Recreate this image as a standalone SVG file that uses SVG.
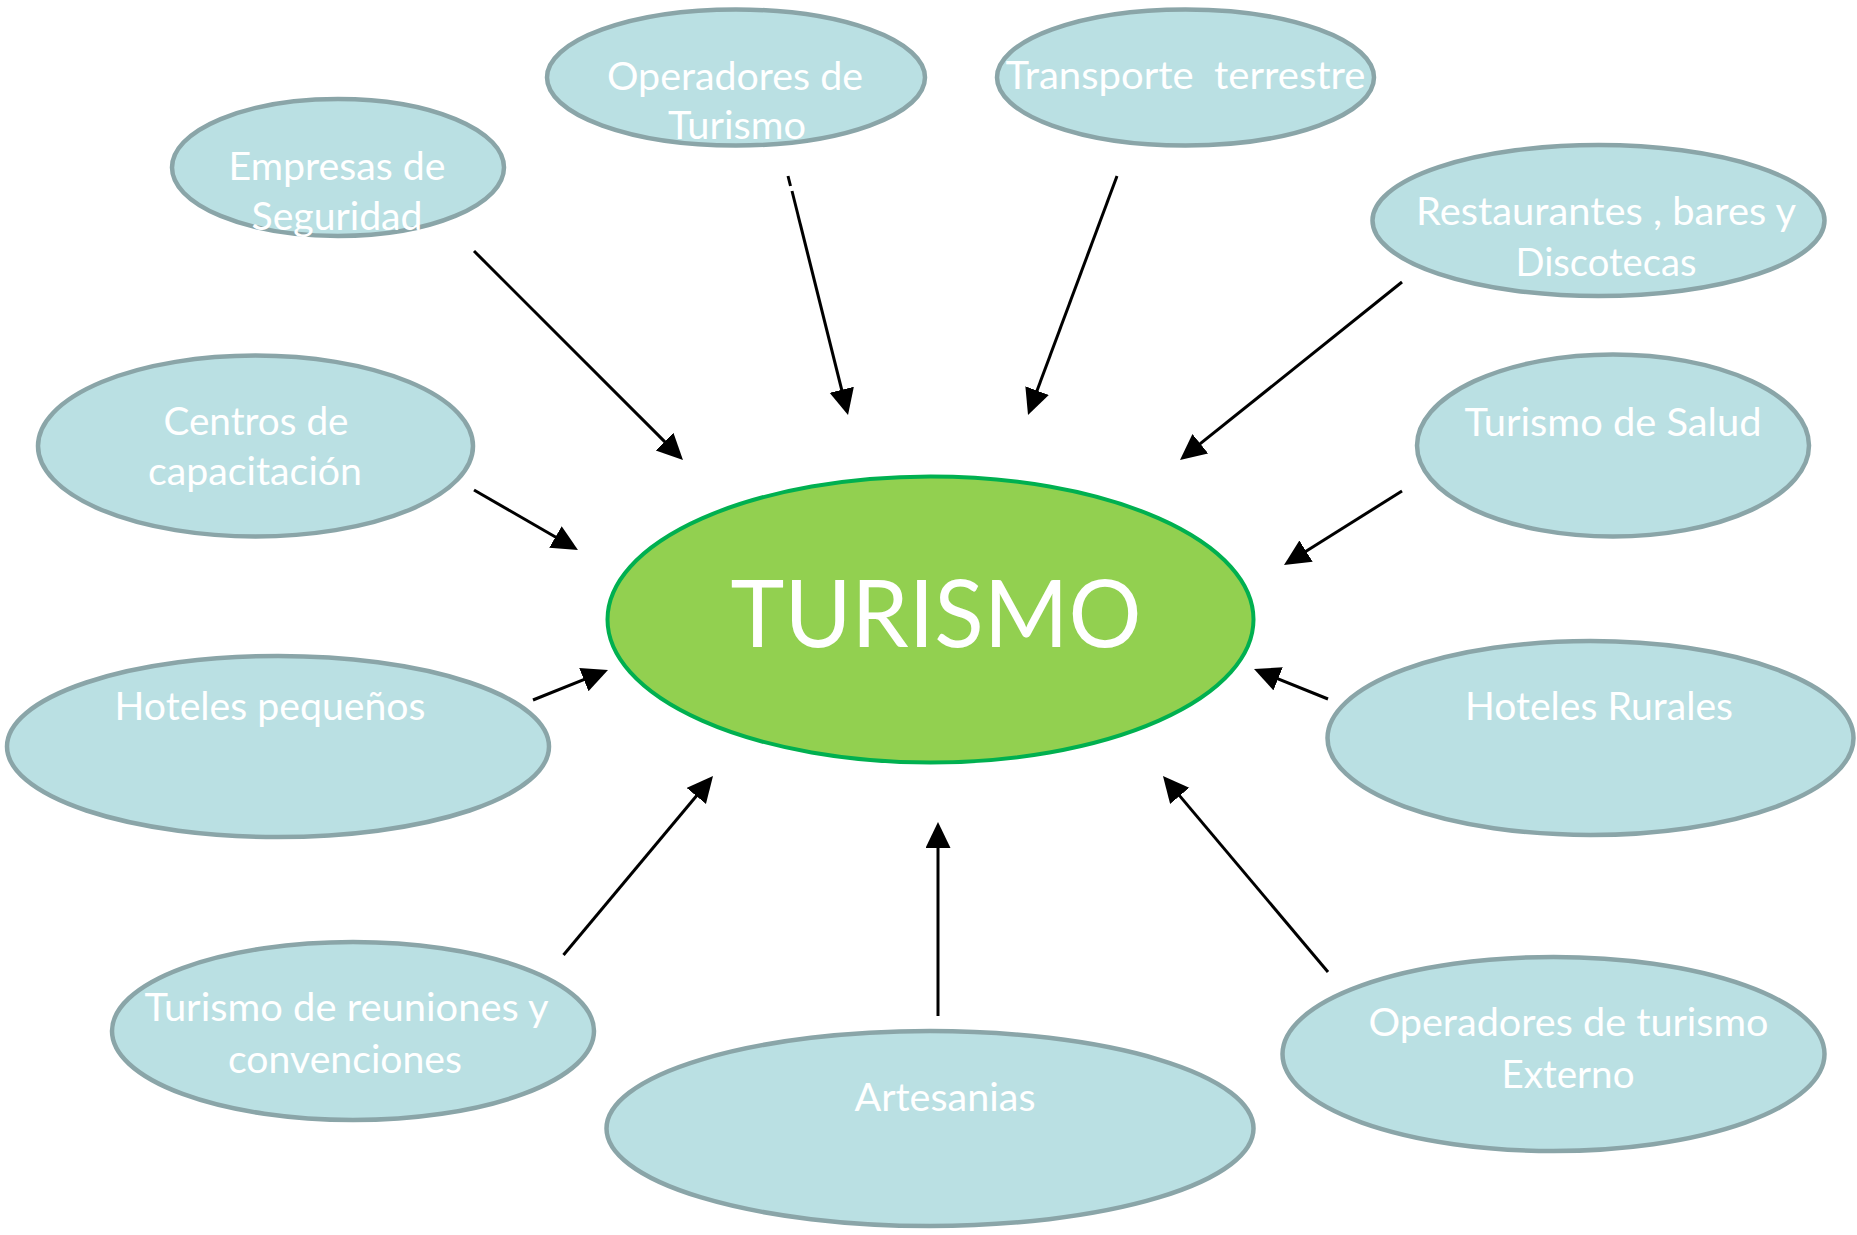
<svg xmlns="http://www.w3.org/2000/svg" width="1857" height="1235" viewBox="0 0 1857 1235">
<defs>
<style>
.n{fill:#BAE0E3;stroke:#8AA5A8;stroke-width:4.5}
.c{fill:#92D050;stroke:#00B050;stroke-width:4}
.t{font-family:Lato,"Liberation Sans",sans-serif;font-size:39px;fill:#FFFFFF;text-anchor:middle}
.big{font-family:Lato,"Liberation Sans",sans-serif;font-size:94px;fill:#FFFFFF;text-anchor:middle}
.a{stroke:#000;stroke-width:3;fill:none;marker-end:url(#ah)}
.s{stroke:#000;stroke-width:3;fill:none}
</style>
<marker id="ah" markerUnits="userSpaceOnUse" markerWidth="27" markerHeight="26" refX="16" refY="12.5" orient="auto">
<path d="M0,0 L26,12.5 L0,25 Z" fill="#000"/>
</marker>
</defs>
<rect width="1857" height="1235" fill="#FFFFFF"/>
<g id="connectors">
<line class="a" x1="474" y1="251" x2="675.9" y2="452.9"/>
<line class="s" x1="788" y1="176" x2="790.5" y2="186"/>
<line class="a" x1="792" y1="191" x2="845.6" y2="405.3"/>
<line class="a" x1="1117" y1="176" x2="1031.5" y2="405.6"/>
<line class="a" x1="1402" y1="282" x2="1187.8" y2="453.7"/>
<line class="a" x1="1402" y1="491" x2="1292.5" y2="559.7"/>
<line class="a" x1="474" y1="490" x2="569.3" y2="545"/>
<line class="a" x1="533" y1="700" x2="598.7" y2="673.7"/>
<line class="a" x1="1328" y1="699" x2="1263.3" y2="672.8"/>
<line class="a" x1="563.5" y1="955" x2="706.6" y2="783.7"/>
<line class="a" x1="938" y1="1016" x2="938" y2="832"/>
<line class="a" x1="1328" y1="972" x2="1169.4" y2="783.6"/>
</g>
<g id="turismo">
<ellipse class="c" cx="930.5" cy="619.5" rx="323" ry="143"/>
<text class="big" x="936" y="647" textLength="411" lengthAdjust="spacingAndGlyphs">TURISMO</text>
</g>
<g id="empresas-seguridad">
<ellipse class="n" cx="338" cy="167.5" rx="166" ry="68.5"/>
<text class="t" x="337" y="180" textLength="217" lengthAdjust="spacingAndGlyphs">Empresas de</text>
<text class="t" x="337" y="230" textLength="171" lengthAdjust="spacingAndGlyphs">Seguridad</text>
</g>
<g id="operadores-turismo">
<ellipse class="n" cx="736" cy="77.5" rx="189" ry="68"/>
<text class="t" x="735" y="90" textLength="256" lengthAdjust="spacingAndGlyphs">Operadores de</text>
<text class="t" x="737" y="139" textLength="138" lengthAdjust="spacingAndGlyphs">Turismo</text>
</g>
<g id="transporte-terrestre">
<ellipse class="n" cx="1185.5" cy="77.5" rx="188.5" ry="68"/>
<text class="t" x="1185.5" y="89" textLength="360" lengthAdjust="spacingAndGlyphs" xml:space="preserve">Transporte  terrestre</text>
</g>
<g id="restaurantes">
<ellipse class="n" cx="1598.5" cy="220.5" rx="226" ry="75.5"/>
<text class="t" x="1606" y="225" textLength="380" lengthAdjust="spacingAndGlyphs">Restaurantes , bares y</text>
<text class="t" x="1606" y="276" textLength="181" lengthAdjust="spacingAndGlyphs">Discotecas</text>
</g>
<g id="turismo-salud">
<ellipse class="n" cx="1613" cy="445.5" rx="196" ry="91"/>
<text class="t" x="1613" y="436" textLength="297" lengthAdjust="spacingAndGlyphs">Turismo de Salud</text>
</g>
<g id="centros-capacitacion">
<ellipse class="n" cx="255.5" cy="446" rx="217.5" ry="90.5"/>
<text class="t" x="256" y="435" textLength="185" lengthAdjust="spacingAndGlyphs">Centros de</text>
<text class="t" x="255" y="485" textLength="214" lengthAdjust="spacingAndGlyphs">capacitación</text>
</g>
<g id="hoteles-pequenos">
<ellipse class="n" cx="278" cy="746.5" rx="271" ry="90.5"/>
<text class="t" x="270" y="720" textLength="311" lengthAdjust="spacingAndGlyphs">Hoteles pequeños</text>
</g>
<g id="hoteles-rurales">
<ellipse class="n" cx="1590.5" cy="738" rx="263" ry="97"/>
<text class="t" x="1599" y="720" textLength="268" lengthAdjust="spacingAndGlyphs">Hoteles Rurales</text>
</g>
<g id="turismo-reuniones">
<ellipse class="n" cx="353" cy="1031" rx="241" ry="89"/>
<text class="t" x="346.5" y="1021" textLength="404" lengthAdjust="spacingAndGlyphs">Turismo de reuniones y</text>
<text class="t" x="345" y="1073" textLength="234" lengthAdjust="spacingAndGlyphs">convenciones</text>
</g>
<g id="artesanias">
<ellipse class="n" cx="930" cy="1128.5" rx="323.5" ry="97.5"/>
<text class="t" x="945" y="1111" textLength="181" lengthAdjust="spacingAndGlyphs">Artesanias</text>
</g>
<g id="operadores-externo">
<ellipse class="n" cx="1553.5" cy="1054" rx="271" ry="97"/>
<text class="t" x="1568.5" y="1036" textLength="400" lengthAdjust="spacingAndGlyphs">Operadores de turismo</text>
<text class="t" x="1568" y="1088" textLength="133" lengthAdjust="spacingAndGlyphs">Externo</text>
</g>
</svg>
